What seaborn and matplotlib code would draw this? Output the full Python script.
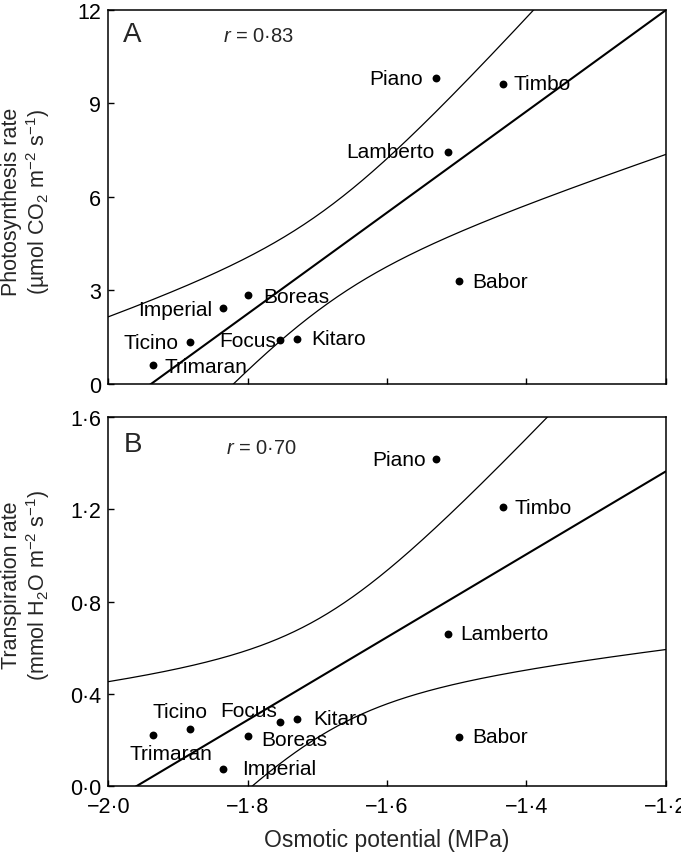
import numpy as np
import pandas as pd
import seaborn as sns
import matplotlib
matplotlib.use("Agg")
import matplotlib.pyplot as plt
from matplotlib.ticker import FixedLocator, FixedFormatter

# ---------------- data ----------------
cultivars = ["Piano", "Timbo", "Lamberto", "Babor", "Boreas", "Imperial",
             "Ticino", "Focus", "Kitaro", "Trimaran"]
osmotic = [-1.529, -1.434, -1.512, -1.496, -1.800, -1.835,
           -1.883, -1.753, -1.729, -1.936]
photosynthesis = [9.81, 9.63, 7.44, 3.29, 2.84, 2.43, 1.34, 1.40, 1.45, 0.60]
transpiration = [1.418, 1.209, 0.660, 0.213, 0.216, 0.072, 0.249, 0.278, 0.290, 0.222]

x_ticks = [-2.0, -1.8, -1.6, -1.4, -1.2]
x_tick_labels = ["−2·0", "−1·8", "−1·6", "−1·4", "−1·2"]
yA_ticks = [0, 3, 6, 9, 12]
yA_tick_labels = ["0", "3", "6", "9", "12"]
yB_ticks = [0.0, 0.4, 0.8, 1.2, 1.6]
yB_tick_labels = ["0·0", "0·4", "0·8", "1·2", "1·6"]
r_labels = ["0·83", "0·70"]
panel_letters = ["A", "B"]

df = pd.DataFrame({"cultivar": cultivars, "osmotic": osmotic,
                   "photosynthesis": photosynthesis, "transpiration": transpiration})

# ---------------- style ----------------
sns.set_style("ticks")
plt.rcParams["font.family"] = ["Liberation Sans", "DejaVu Sans"]
plt.rcParams["mathtext.fontset"] = "custom"
plt.rcParams["mathtext.rm"] = "Liberation Sans"
plt.rcParams["mathtext.it"] = "Liberation Sans:italic"
plt.rcParams["mathtext.bf"] = "Liberation Sans:bold"
plt.rcParams["axes.unicode_minus"] = True

# label offsets in pixels (dx, dy, ha)
offA = {"Piano": (-14, 0, "right"), "Timbo": (11, 0, "left"),
        "Lamberto": (-14, 0, "right"), "Babor": (13, 0, "left"),
        "Boreas": (16, -1, "left"), "Imperial": (-11, -1, "right"),
        "Ticino": (-11, 0, "right"), "Focus": (-4, 0, "right"),
        "Kitaro": (14, 0, "left"), "Trimaran": (12, -1, "left")}
offB = {"Piano": (-11, 0, "right"), "Timbo": (12, 0, "left"),
        "Lamberto": (12, 0, "left"), "Babor": (13, 0, "left"),
        "Boreas": (14, -3, "left"), "Imperial": (19, 1, "left"),
        "Ticino": (-10, 17, "center"), "Focus": (-3, 11, "right"),
        "Kitaro": (16, 1, "left"), "Trimaran": (18, -19, "center")}


def fit_band(x, y, grid, t=2.306):
    x = np.asarray(x, float)
    y = np.asarray(y, float)
    n = len(x)
    b, a = np.polyfit(x, y, 1)
    yhat = a + b * grid
    resid = y - (a + b * x)
    s = np.sqrt(np.sum(resid ** 2) / (n - 2))
    sxx = np.sum((x - x.mean()) ** 2)
    se = s * np.sqrt(1.0 / n + (grid - x.mean()) ** 2 / sxx)
    return yhat, yhat - t * se, yhat + t * se


W, H = 681, 853
fig = plt.figure(figsize=(W / 100, H / 100), dpi=100)
axA = fig.add_axes([108.3 / W, 1 - 385 / H, 557.4 / W, 374.3 / H])
axB = fig.add_axes([108.3 / W, 1 - 787 / H, 557.4 / W, 368.7 / H])

grid = np.linspace(-2.0, -1.2, 400)

panels = [
    (axA, "photosynthesis", yA_ticks, yA_tick_labels, (0, 12), offA,
     "Photosynthesis rate\n(µmol CO$_2$ m$^{-2}$ s$^{-1}$)", 0.49, (0.027, 0.935), (0.206, 0.932)),
    (axB, "transpiration", yB_ticks, yB_tick_labels, (0, 1.6), offB,
     "Transpiration rate\n(mmol H$_2$O m$^{-2}$ s$^{-1}$)", 0.548, (0.027, 0.928), (0.212, 0.919)),
]

for i, (ax, col, yt, ytl, ylim, offs, ylab, ylab_y, letter_pos, r_pos) in enumerate(panels):
    yhat, lo, hi = fit_band(df["osmotic"], df[col], grid)
    sns.lineplot(x=grid, y=yhat, ax=ax, color="black", lw=1.5)
    sns.lineplot(x=grid, y=lo, ax=ax, color="black", lw=0.9)
    sns.lineplot(x=grid, y=hi, ax=ax, color="black", lw=0.9)
    sns.scatterplot(data=df, x="osmotic", y=col, ax=ax, color="black", s=32,
                    linewidth=0, zorder=3)
    for name, xv, yv in zip(df["cultivar"], df["osmotic"], df[col]):
        dx, dy, ha = offs[name]
        ax.annotate(name, (xv, yv), xytext=(dx, dy), textcoords="offset pixels",
                    ha=ha, va="center", fontsize=15, color="black")

    ax.set_xlim(-2.0, -1.2)
    ax.set_ylim(*ylim)
    ax.xaxis.set_major_locator(FixedLocator(x_ticks))
    ax.yaxis.set_major_locator(FixedLocator(yt))
    ax.yaxis.set_major_formatter(FixedFormatter(ytl))
    if i == 1:
        ax.xaxis.set_major_formatter(FixedFormatter(x_tick_labels))
        ax.set_xlabel("Osmotic potential (MPa)", fontsize=16.5, labelpad=8)
    else:
        ax.set_xticklabels([])
        ax.set_xlabel("")
    ax.tick_params(axis="both", direction="in", length=4.5, width=1.0,
                   labelsize=15.5, top=False, right=False, colors="black")
    ax.tick_params(axis="x", pad=7)
    ax.tick_params(axis="y", pad=5)
    ax.set_ylabel(ylab, fontsize=15.5, linespacing=1.1)
    ax.yaxis.set_label_coords(-0.101, ylab_y)
    for sp in ax.spines.values():
        sp.set_visible(True)
        sp.set_linewidth(1.1)
        sp.set_color("black")
    ax.text(*letter_pos, panel_letters[i], transform=ax.transAxes, fontsize=20,
            ha="left", va="center")
    ax.text(*r_pos, "$r$ = " + r_labels[i], transform=ax.transAxes, fontsize=14.5,
            ha="left", va="center")

fig.savefig("out.png", dpi=100)
